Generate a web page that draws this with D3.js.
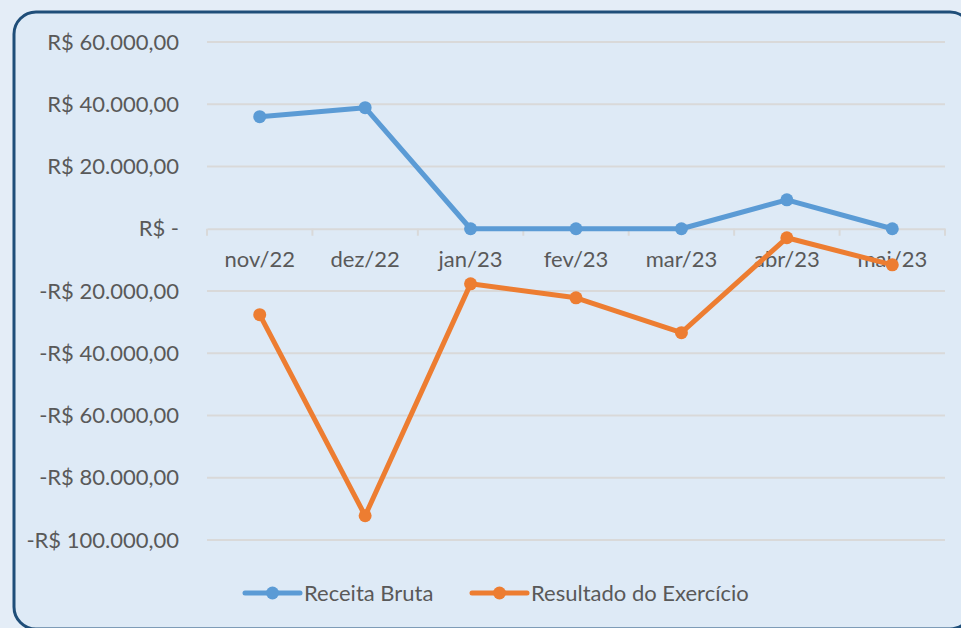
<!DOCTYPE html>
<html lang="pt">
<head>
  <meta charset="UTF-8" />
  <title>Receita Bruta x Resultado do Exercício</title>
  <script src="https://d3js.org/d3.v7.min.js"></script>
  <style>
    body { margin: 0; background: #e4edf7; overflow: hidden; }
    svg { display: block; font-family: Lato, "Open Sans", sans-serif; }
  </style>
</head>
<body>
<svg width="961" height="628"></svg>
<script>
  const months = ["nov/22", "dez/22", "jan/23", "fev/23", "mar/23", "abr/23", "mai/23"];
  const receitaBruta = [36000, 38900, 0, 0, 0, 9300, 0];
  const resultado = [-27600, -92200, -17700, -22200, -33400, -2900, -11600];
  const yTicks = [60000, 40000, 20000, 0, -20000, -40000, -60000, -80000, -100000];
  const seriesNames = ["Receita Bruta", "Resultado do Exercício"];
  const colors = ["#5b9bd5", "#ed7d31"];

  const svg = d3.select("svg");
  const fontSize = 22;

  // chart frame (runs past the right and bottom edges of the picture)
  svg.append("rect")
    .attr("x", 14).attr("y", 12)
    .attr("width", 958).attr("height", 617)
    .attr("rx", 22)
    .attr("fill", "#deeaf6")
    .attr("stroke", "#1f4e79")
    .attr("stroke-width", 3);

  const x = d3.scaleBand().domain(months).range([207, 945]);
  const y = d3.scaleLinear().domain([-100000, 60000]).range([540, 42]);

  const fmt = v => {
    if (v === 0) return "R$ -";
    const s = d3.format(",.2f")(Math.abs(v)).replace(/,/g, "X").replace(".", ",").replace(/X/g, ".");
    return (v < 0 ? "-" : "") + "R$ " + s;
  };

  // gridlines
  svg.append("g")
    .selectAll("line")
    .data(yTicks.filter(d => d !== 0))
    .join("line")
    .attr("x1", 207).attr("x2", 945)
    .attr("y1", d => y(d)).attr("y2", d => y(d))
    .attr("stroke", "#d9d9d9")
    .attr("stroke-width", 2);

  // y labels
  svg.append("g")
    .selectAll("text")
    .data(yTicks)
    .join("text")
    .attr("x", 179)
    .attr("y", d => y(d))
    .attr("dy", "0.35em")
    .attr("text-anchor", "end")
    .attr("fill", "#595959")
    .attr("font-size", fontSize)
    .text(fmt);

  // category axis at zero
  const xAxis = svg.append("g")
    .attr("transform", `translate(0,${y(0)})`)
    .call(d3.axisBottom(x).tickSize(0).tickPadding(23));
  xAxis.select(".domain").attr("stroke", "#d9d9d9").attr("stroke-width", 2);
  xAxis.selectAll("text").attr("fill", "#595959").attr("font-size", fontSize).attr("font-family", "Lato, sans-serif");

  const bounds = months.map(m => x(m)).concat([x.range()[1]]);
  xAxis.selectAll(".bound")
    .data(bounds)
    .join("line")
    .attr("class", "bound")
    .attr("x1", d => d).attr("x2", d => d)
    .attr("y1", 0).attr("y2", 7)
    .attr("stroke", "#d9d9d9")
    .attr("stroke-width", 2);

  const line = d3.line()
    .x((d, i) => x(months[i]) + x.bandwidth() / 2)
    .y(d => y(d));

  [receitaBruta, resultado].forEach((series, k) => {
    svg.append("path")
      .datum(series)
      .attr("fill", "none")
      .attr("stroke", colors[k])
      .attr("stroke-width", 5)
      .attr("stroke-linejoin", "round")
      .attr("d", line);
    svg.append("g")
      .selectAll("circle")
      .data(series)
      .join("circle")
      .attr("cx", (d, i) => x(months[i]) + x.bandwidth() / 2)
      .attr("cy", d => y(d))
      .attr("r", 6.5)
      .attr("fill", colors[k]);
  });

  // legend
  const legendX = [245, 472];
  seriesNames.forEach((name, k) => {
    const g = svg.append("g").attr("transform", `translate(${legendX[k]},593)`);
    g.append("line")
      .attr("x1", 0).attr("x2", 55)
      .attr("stroke", colors[k])
      .attr("stroke-width", 5)
      .attr("stroke-linecap", "round");
    g.append("circle").attr("cx", 27.5).attr("r", 6.5).attr("fill", colors[k]);
    g.append("text")
      .attr("x", 59)
      .attr("dy", "0.35em")
      .attr("fill", "#595959")
      .attr("font-size", fontSize)
      .text(name);
  });
</script>
</body>
</html>
